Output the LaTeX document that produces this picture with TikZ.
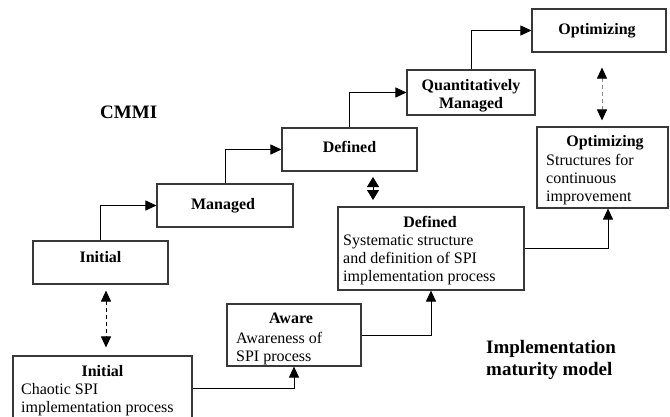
\documentclass[tikz,border=0pt]{standalone}
\usepackage{fontspec}
\setmainfont{Liberation Serif}
\usetikzlibrary{arrows.meta,calc}

\tikzset{
  box/.style={draw=black!78, line width=1.1pt, rectangle, inner sep=0pt, fill=white},
  ttl/.style={anchor=base, inner sep=0pt, font=\bfseries\fontsize{16}{18}\selectfont},
  % multi-line texts are placed by the baseline of their last line
  body/.style={anchor=base west, inner sep=0pt, align=left, font=\fontsize{16}{18}\selectfont},
  big/.style={anchor=base west, inner sep=0pt, align=left, font=\bfseries\fontsize{19}{22}\selectfont},
  flow/.style={draw=black, line width=0.9pt, -{Triangle[length=11pt,width=10pt]}},
  dasharrow/.style={line width=0.9pt, dash pattern=on 4pt off 3pt,
    {Triangle[length=11pt,width=10pt,color=black]}-{Triangle[length=11pt,width=10pt,color=black]}},
  pairarrow/.style={line width=0.9pt,
    {Triangle[length=10pt,width=12pt]}-{Triangle[length=10pt,width=12pt]}}
}

\begin{document}
\begin{tikzpicture}[x=1pt, y=-1pt]
\useasboundingbox (0,0) rectangle (670,416);
\clip (0,0) rectangle (670,416);
\fill[white] (0,0) rectangle (670,416);

% CMMI staircase
\node[box, minimum width=134pt, minimum height=43pt] (cOpt)  at (599,30.5)   {};
\node[box, minimum width=128pt, minimum height=45pt] (cQM)   at (471,92.5)   {};
\node[box, minimum width=135pt, minimum height=43pt] (cDef)  at (349.5,149.5) {};
\node[box, minimum width=136pt, minimum height=43pt] (cMan)  at (225,205.5)  {};
\node[box, minimum width=135pt, minimum height=43pt] (cInit) at (100.5,262.5) {};

\node[ttl] (tcOpt)  at (597,34)    {Optimizing};
\node[ttl] (tcQM1)  at (471,90)    {Quantitatively};
\node[ttl] (tcQM2)  at (471,108)   {Managed};
\node[ttl] (tcDef)  at (349.5,152.5) {Defined};
\node[ttl] (tcMan)  at (223,209)   {Managed};
\node[ttl] (tcInit) at (100.5,262) {Initial};

% Implementation maturity staircase
\node[box, minimum width=179pt, minimum height=64pt] (iInit)  at (102.5,388) {};
\node[box, minimum width=134pt, minimum height=62pt] (iAware) at (294,335)   {};
\node[box, minimum width=186pt, minimum height=83pt] (iDef)   at (431,248.5) {};
\node[box, minimum width=131pt, minimum height=81pt] (iOpt)   at (602.5,167.5) {};

\node[ttl] (tiInit)  at (102.5,376) {Initial};
\node[body] (biInit) at (21,412) {Chaotic SPI\\implementation process};
\node[ttl] (tiAware) at (291,323) {Aware};
\node[body] (biAware) at (236,361) {Awareness of\\SPI process};
\node[ttl] (tiDef)   at (430,227) {Defined};
\node[body] (biDef)  at (343,281) {Systematic structure\\and definition of SPI\\implementation process};
\node[ttl] (tiOpt)   at (605,146) {Optimizing};
\node[body] (biOpt)  at (546,201) {Structures for\\continuous\\improvement};

% model labels
\node[big] (lCMMI) at (100,118) {CMMI};
\node[big] (lImpl) at (486,375) {Implementation\\maturity model};

% level progressions
\draw[flow] (cInit.north) |- (cMan.west);
\draw[flow] (cMan.north)  |- (cDef.west);
\draw[flow] (cDef.north)  |- (cQM.west);
\draw[flow] (cQM.north)   |- (cOpt.west);

\draw[flow] (iInit.east)  -| (iAware.south);
\draw[flow] (iAware.east) -| (iDef.south);
\coordinate (optIn) at ($(iOpt.south)+(5.5,0)$);
\draw[flow] (iDef.east)   -| (optIn);

% correspondences between the two models
\coordinate (d1a) at ($(cInit.south)+(5.5,6)$);
\coordinate (d1b) at ($(d1a |- iInit.north)+(0,-8)$);
\draw[dasharrow, draw=black] (d1a) -- (d1b);

\coordinate (d2a) at (373,177);
\coordinate (d2b) at (373,200);
\draw[pairarrow, black] (d2a) -- (d2b);

\coordinate (d3a) at ($(cOpt.south)+(3,15)$);
\coordinate (d3b) at ($(d3a |- iOpt.north)+(0,-6)$);
\draw[dasharrow, draw=black!45] (d3a) -- (d3b);
\end{tikzpicture}
\end{document}
